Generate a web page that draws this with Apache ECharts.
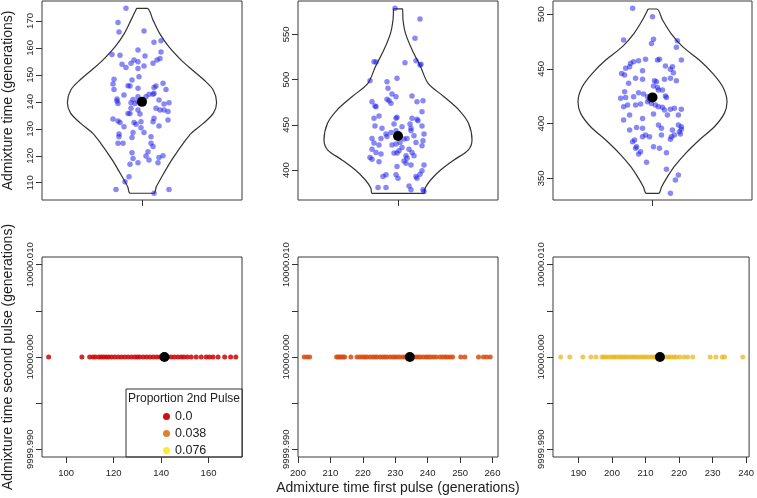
<!DOCTYPE html>
<html>
<head>
<meta charset="utf-8">
<script src="https://cdn.jsdelivr.net/npm/echarts@6/dist/echarts.min.js"></script>
<style>
  html, body { margin: 0; padding: 0; background: #fff; }
  #chart { width: 757px; height: 498px; }
</style>
</head>
<body>
<div id="chart"></div>
<script>
// ---- top row: admixture time per replicate, [jitter, generations]
var pts1 = [[-0.16,174.7],[-0.24,169.4],[-0.23,165.9],[0.02,166.3],[0.12,162.1],[0.19,162.7],[-0.04,159.2],[-0.22,157.3],[-0.30,157.6],[0.03,157.0],
  [0.19,158.5],[0.18,156.1],[-0.08,155.5],[-0.04,154.9],[-0.11,154.3],[-0.20,153.9],[-0.16,152.7],[0.11,154.3],[0.02,153.3],[-0.04,152.4],
  [0.15,155.5],[-0.28,148.4],[-0.10,148.1],[-0.03,149.3],[-0.29,146.6],[-0.14,146.0],[-0.12,145.9],[-0.04,145.0],[0.21,146.9],[0.14,145.9],
  [0.12,145.3],[0.24,144.6],[-0.28,144.6],[-0.18,142.5],[0.07,142.8],[0.11,142.8],[0.04,141.9],[-0.04,141.9],[-0.25,141.1],[-0.25,140.3],
  [-0.09,140.9],[-0.11,139.7],[-0.07,139.4],[-0.04,140.1],[0.12,143.2],[0.17,140.7],[0.27,139.7],[0.22,139.2],[-0.24,139.4],[0.14,137.6],
  [0.18,137.0],[0.22,137.0],[0.26,136.4],[-0.11,137.6],[-0.04,137.0],[-0.02,135.5],[-0.12,135.7],[-0.14,135.7],[-0.29,133.6],[-0.24,132.9],
  [-0.22,132.3],[-0.08,132.3],[-0.06,131.7],[-0.01,132.6],[-0.01,130.4],[0.12,133.9],[0.11,132.6],[0.26,133.3],[0.17,131.0],[-0.18,130.8],
  [-0.23,128.1],[-0.23,127.1],[-0.09,128.6],[-0.10,126.8],[0.02,128.6],[0.09,127.1],[-0.19,124.6],[-0.24,124.6],[0.09,124.6],[0.11,123.4],
  [-0.10,121.1],[0.06,121.5],[0.04,119.9],[0.07,118.4],[0.16,117.4],[0.17,119.4],[0.21,120.0],[-0.09,119.0],[-0.04,117.4],[-0.12,116.9],
  [-0.13,112.2],[-0.17,110.4],[-0.26,107.5],[0.12,106.1],[0.27,107.5]];
var pts2 = [[-0.03,578.7],[0.22,567.0],[0.17,545.6],[-0.24,519.8],[-0.22,519.4],[0.07,518.7],[0.18,520.9],[0.22,516.1],[0.23,516.8],[-0.28,498.8],
  [-0.11,497.7],[-0.01,501.4],[-0.10,490.3],[-0.06,484.0],[-0.02,481.1],[-0.11,478.2],[-0.09,476.7],[-0.07,473.7],[0.14,481.8],[0.19,475.6],
  [0.25,476.7],[-0.26,475.6],[-0.23,470.8],[-0.22,470.0],[0.24,464.5],[-0.19,459.7],[-0.24,457.1],[-0.02,457.1],[-0.01,458.3],[0.14,457.1],
  [0.19,456.0],[0.20,454.6],[-0.23,448.7],[-0.16,446.1],[-0.04,450.9],[0.04,447.9],[0.12,450.9],[0.13,446.1],[0.24,448.7],[-0.02,443.4],
  [-0.07,441.6],[-0.12,439.7],[-0.11,437.1],[-0.17,434.9],[0.13,443.4],[0.16,437.9],[0.26,439.7],[-0.26,434.9],[-0.24,429.8],[-0.19,427.6],
  [-0.06,427.6],[-0.02,428.7],[0.02,430.5],[0.06,434.2],[0.09,434.9],[0.18,430.5],[0.24,426.8],[0.25,432.3],[0.01,421.3],[-0.26,423.1],
  [-0.22,419.5],[-0.17,417.6],[0.04,424.9],[0.11,423.1],[0.14,419.5],[0.16,415.8],[-0.28,414.0],[-0.26,411.8],[-0.04,418.7],[-0.01,418.7],
  [0.08,415.8],[-0.19,409.3],[0.09,412.9],[0.06,410.1],[0.08,407.6],[0.13,405.7],[-0.01,403.9],[0.26,405.7],[0.24,399.1],[-0.12,394.7],
  [-0.15,392.8],[-0.02,394.7],[0.00,391.0],[0.18,392.8],[0.19,391.0],[0.22,395.4],[-0.20,380.7],[-0.12,380.7],[0.11,382.5],[0.13,378.1],
  [0.25,378.1],[0.26,376.2]];
var pts3 = [[-0.20,505.2],[0.00,497.6],[-0.29,476.3],[-0.01,473.2],[0.01,476.9],[0.25,475.7],[0.24,469.6],[-0.22,455.0],[-0.19,456.5],[-0.14,457.4],
  [-0.07,458.6],[0.05,458.0],[0.07,458.6],[0.29,458.0],[-0.27,450.4],[-0.23,451.9],[-0.31,445.8],[-0.28,444.3],[-0.10,448.3],[0.13,452.5],
  [0.18,449.5],[0.20,451.9],[0.21,446.4],[-0.24,436.7],[-0.17,441.3],[-0.10,440.4],[0.02,439.1],[0.04,438.2],[0.01,434.3],[0.05,433.0],
  [0.12,440.4],[0.18,441.3],[0.24,439.1],[0.06,430.6],[0.10,430.6],[-0.28,429.1],[-0.32,423.0],[-0.27,423.9],[-0.19,424.5],[-0.14,428.2],
  [-0.09,427.0],[-0.05,424.5],[0.13,425.1],[0.14,423.9],[-0.03,421.5],[-0.05,420.0],[-0.01,418.4],[-0.25,416.9],[-0.29,415.4],[-0.17,416.9],
  [-0.12,417.8],[0.03,416.9],[0.06,415.4],[0.10,414.8],[0.12,412.4],[0.18,413.0],[0.22,413.9],[0.29,413.0],[-0.23,407.8],[0.01,408.7],
  [0.15,407.8],[0.26,407.8],[-0.29,403.2],[-0.10,404.7],[-0.23,394.1],[-0.16,396.5],[-0.10,395.6],[0.06,398.7],[0.09,395.6],[0.20,394.1],
  [0.26,398.7],[0.29,397.1],[0.29,394.7],[0.27,392.6],[-0.18,385.0],[-0.20,383.4],[-0.07,389.5],[-0.10,388.0],[-0.03,388.0],[0.09,389.5],
  [0.19,388.0],[0.22,389.5],[0.28,390.4],[0.18,385.6],[-0.16,378.9],[-0.17,377.4],[-0.12,374.3],[-0.14,372.2],[0.01,378.9],[0.07,377.4],
  [0.14,373.4],[-0.06,364.6],[0.14,358.2],[0.26,353.0],[0.23,348.4],[0.18,336.3]];
var means = [140.0, 437.6, 423.9];

// violin outlines: generations and density half width
var vio1Y = [174.7,170.4,165.4,160.5,155.5,151.8,148.1,144.4,139.8,135.8,132.0,128.3,124.6,120.9,117.2,112.2,108.5,106.1];
var vio1W = [0.053,0.109,0.176,0.268,0.392,0.503,0.62,0.712,0.746,0.714,0.613,0.492,0.412,0.342,0.276,0.198,0.143,0.118];
var vio2Y = [578.0,565.8,551.1,532.6,514.2,495.8,481.0,466.3,451.6,433.2,422.1,411.2,400.0,389.0,379.8,374.3];
var vio2W = [0.045,0.05,0.075,0.142,0.226,0.301,0.46,0.61,0.705,0.74,0.702,0.56,0.426,0.326,0.271,0.261];
var vio3Y = [504.6,494.5,482.4,470.2,458.0,445.9,433.6,420.0,409.3,397.1,385.0,372.8,360.6,351.5,342.3,336.3];
var vio3W = [0.044,0.101,0.185,0.302,0.47,0.605,0.706,0.749,0.722,0.622,0.47,0.333,0.218,0.151,0.092,0.062];

// ---- bottom row: first pulse time, second pulse fixed at 10000
var first1 = [92.6,106.6,109.9,111.3,112.3,113.8,114.8,115.8,116.9,117.9,119.1,120.5,121.9,123.3,124.7,126.1,127.5,128.9,130.0,131.0,
  132.5,133.9,135.3,136.7,138.1,139.5,142.8,144.2,145.6,147.1,148.5,149.6,151.0,152.7,154.8,156.9,159.0,160.4,161.9,164.0,166.8,169.3,171.5];
var first2 = [201.9,202.8,203.6,211.9,212.4,212.9,213.4,213.9,214.4,216.3,218.2,219.1,219.9,220.6,221.3,222.2,223.0,223.7,224.4,225.3,
  226.1,226.8,227.5,228.4,229.2,229.9,230.6,231.4,232.3,233.0,233.7,235.6,236.4,237.1,237.8,238.7,239.5,240.2,240.9,241.8,
  242.6,243.8,244.6,245.4,246.1,246.9,247.7,250.2,251.5,255.7,257.2,258.2,259.3];
var first3 = [184.7,187.4,191.3,193.7,195.2,197.0,197.6,198.3,199.1,199.9,200.6,201.3,202.1,202.8,203.5,204.2,205.0,205.8,206.5,207.2,
  207.9,208.7,209.4,210.1,210.9,211.7,212.4,213.0,215.3,216.3,217.0,217.7,218.5,219.2,220.2,221.5,222.6,224.1,229.3,231.0,232.9,233.6,239.0];
var firstMeans = [141.4, 234.5, 214.3];
var secondPulse = 10000;
var proportions = ['0.0', '0.038', '0.076'];

var topTicks = [[110,120,130,140,150,160,170], [400,450,500,550], [350,400,450,500]];
var bottomTicks = [[100,120,140,160], [200,210,220,230,240,250,260], [190,200,210,220,230,240]];
var secondTicks = [9999.990, 9999.995, 10000.000, 10000.005, 10000.010];
var secondLabels = [9999.990, 10000.000, 10000.010];

var font = 'Liberation Sans, Arial, sans-serif';
var chart = echarts.init(document.getElementById('chart'));

var grids = [
  {left: 42, top: 1, width: 200, height: 199},
  {left: 298, top: 1, width: 200, height: 199},
  {left: 553, top: 1, width: 199, height: 199},
  {left: 42, top: 257, width: 200, height: 200},
  {left: 298, top: 257, width: 200, height: 200},
  {left: 553, top: 257, width: 199, height: 200}
].map(function (g) {
  g.show = true; g.borderColor = '#3a3a3a'; g.borderWidth = 1;
  return g;
});

function violin(ys, ws) {
  var left = ys.map(function (y, i) { return [-ws[i], y]; });
  var right = ys.map(function (y, i) { return [ws[i], y]; }).reverse();
  return left.concat(right, [left[0]]);
}

var noLine = {show: false, onZero: false};
var tick = {show: true, inside: false, length: 6, lineStyle: {color: '#333'}};
var lbl = {color: '#222', fontFamily: font, fontSize: 9.5};

var yRanges = [[103.6, 177.4], [366.9, 586.8], [330.2, 511.9]];
var xRanges = [[89.8, 174.1], [200, 261.7], [182.4, 240.9]];

var xAxes = [], yAxes = [];
for (var i = 0; i < 3; i++) {
  xAxes.push({gridIndex: i, type: 'value', min: -1, max: 1, axisLine: noLine, splitLine: {show: false},
    axisTick: Object.assign({}, tick, {customValues: [0]}), axisLabel: {show: false}});
  yAxes.push({gridIndex: i, type: 'value', min: yRanges[i][0], max: yRanges[i][1], axisLine: noLine,
    splitLine: {show: false}, axisTick: Object.assign({}, tick, {customValues: topTicks[i]}),
    axisLabel: Object.assign({}, lbl, {rotate: 90, margin: 7, customValues: topTicks[i]})});
}
for (var j = 0; j < 3; j++) {
  xAxes.push({gridIndex: 3 + j, type: 'value', min: xRanges[j][0], max: xRanges[j][1], axisLine: noLine,
    splitLine: {show: false}, axisTick: Object.assign({}, tick, {customValues: bottomTicks[j]}),
    axisLabel: Object.assign({}, lbl, {margin: 11, customValues: bottomTicks[j]})});
  yAxes.push({gridIndex: 3 + j, type: 'value', min: 9999.98916, max: 10000.01084, axisLine: noLine,
    splitLine: {show: false}, axisTick: Object.assign({}, tick, {customValues: secondTicks}),
    axisLabel: Object.assign({}, lbl, {rotate: 90, margin: 7, customValues: secondLabels,
      formatter: function (v) { return Number(v).toFixed(3); }})});
}
var nameStyle = {fontFamily: font, fontSize: 14, color: '#222'};
yAxes[0].name = 'Admixture time (generations)';
yAxes[3].name = 'Admixture time second pulse (generations)';
[0, 3].forEach(function (k) {
  yAxes[k].nameLocation = 'middle'; yAxes[k].nameGap = 27; yAxes[k].nameTextStyle = nameStyle;
});
xAxes[4].name = 'Admixture time first pulse (generations)';
xAxes[4].nameLocation = 'middle'; xAxes[4].nameGap = 24; xAxes[4].nameTextStyle = nameStyle;

var series = [];
var vios = [[vio1Y, vio1W], [vio2Y, vio2W], [vio3Y, vio3W]];
var tops = [pts1, pts2, pts3];
for (var a = 0; a < 3; a++) {
  series.push({type: 'line', xAxisIndex: a, yAxisIndex: a, data: violin(vios[a][0], vios[a][1]),
    showSymbol: false, smooth: 0.3, lineStyle: {color: '#333', width: 1.2}, silent: true, z: 2});
  series.push({type: 'scatter', xAxisIndex: a, yAxisIndex: a, data: tops[a], symbolSize: 5.5,
    itemStyle: {color: 'rgba(20,20,235,0.5)', opacity: 1}, z: 3});
  series.push({type: 'scatter', xAxisIndex: a, yAxisIndex: a, data: [[0, means[a]]], symbolSize: 10,
    itemStyle: {color: '#000', opacity: 1}, z: 5});
}
var bottoms = [first1, first2, first3];
var dotColors = ['rgba(205,5,5,0.85)', 'rgba(215,75,15,0.85)', 'rgba(232,180,20,0.7)'];
var legendColors = ['#cc1010', '#e0802c', '#f6ee2e'];
for (var b = 0; b < 3; b++) {
  series.push({type: 'scatter', name: proportions[b], xAxisIndex: 3 + b, yAxisIndex: 3 + b,
    data: bottoms[b].map(function (v) { return [v, secondPulse]; }), symbolSize: 5,
    itemStyle: {color: dotColors[b], opacity: 1}, z: 3});
  series.push({type: 'scatter', xAxisIndex: 3 + b, yAxisIndex: 3 + b, data: [[firstMeans[b], secondPulse]],
    symbolSize: 10, itemStyle: {color: '#000', opacity: 1}, z: 5});
}

chart.setOption({
  animation: false,
  grid: grids,
  xAxis: xAxes,
  yAxis: yAxes,
  legend: {
    data: proportions.map(function (p, k) { return {name: p, itemStyle: {color: legendColors[k], opacity: 1}}; }),
    orient: 'vertical', left: 126, top: 389, icon: 'circle', itemWidth: 7, itemHeight: 7, itemGap: 4,
    padding: [21, 36, 0, 37], borderColor: '#333', borderWidth: 1, selectedMode: false,
    textStyle: {fontFamily: font, fontSize: 12.5, lineHeight: 13, color: '#222'}
  },
  graphic: [{type: 'text', x: 184, y: 399, z: 10,
    style: {text: 'Proportion 2nd Pulse', align: 'center', verticalAlign: 'middle',
      font: '12px Liberation Sans, Arial, sans-serif', fill: '#222'}}],
  series: series
});
</script>
</body>
</html>
